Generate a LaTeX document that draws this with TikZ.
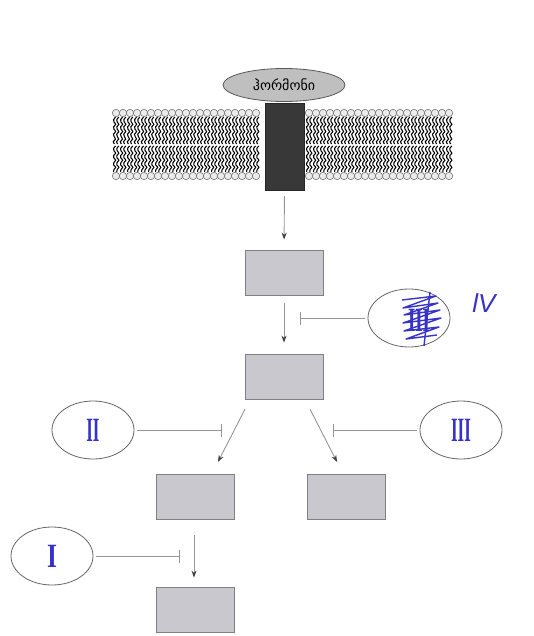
\documentclass[tikz,border=0pt]{standalone}
\usepackage{fontspec}
\newfontfamily\geo{DejaVu Sans}
\newfontfamily\hand{Liberation Serif}
\newfontfamily\handsans{Liberation Sans}
\usetikzlibrary{shapes.geometric,arrows.meta}
\definecolor{boxgray}{RGB}{201,200,207}
\definecolor{handblue}{RGB}{55,50,200}
\definecolor{headfill}{RGB}{235,235,235}
\definecolor{linegray}{RGB}{150,150,150}
\begin{document}
\begin{tikzpicture}[x=1pt,y=-1pt,
 boxn/.style={draw=black!50, fill=boxgray, minimum width=78pt, minimum height=45pt, inner sep=0pt, line width=0.8pt},
 oval/.style={ellipse, draw=black!60, line width=0.8pt, minimum width=82pt, minimum height=58pt, inner sep=0pt},
 numeral/.style={text=handblue, font=\hand\bfseries\fontsize{34}{34}\selectfont},
 act/.style={draw=linegray, line width=0.9pt, -{Stealth[length=7pt,width=5pt,color=black!75]}},
 inh/.style={draw=linegray, line width=1pt, -{Bar[width=13pt,line width=1pt]}, shorten <=3pt},
 tail/.style={draw=black, line width=1.05pt},
 head/.style={draw=black!55, fill=headfill, line width=0.6pt},
]
\useasboundingbox (0,0) rectangle (534,636);
% membrane
\foreach \hx in {116,123,...,256,309,316,...,449} {
  \foreach \dx in {-1.6,1.6} {
    \draw[tail] plot[domain=117:144,samples=12,smooth] ({\hx+\dx+1.3*sin(\x*50)},\x);
    \draw[tail] plot[domain=146:172,samples=12,smooth] ({\hx+\dx+1.3*sin(\x*50)},\x);
  }
  \draw[head] (\hx,113) circle (3.7);
  \draw[head] (\hx,176) circle (3.7);
}
% receptor and hormone
\node[fill=black!78, draw=black!85, minimum width=39pt, minimum height=87pt, inner sep=0pt] (rec) at (284.5,146.5) {};
\node[ellipse, draw=black!65, fill=black!25, line width=0.8pt, minimum width=122pt, minimum height=33pt, inner sep=0pt, font=\geo\fontsize{14}{14}\selectfont] (horm) at (284,85) {ჰორმონი};
% boxes
\node[boxn] (b1) at (284,272.5) {};
\node[boxn] (b2) at (284,376.5) {};
\node[boxn] (b3) at (195,496.5) {};
\node[boxn] (b4) at (346,496.5) {};
\node[boxn] (b5) at (195,609.5) {};
% ovals
\node[oval] (o4) at (409,318) {};
\node[oval] (o2) at (93,430) {};
\node[oval] (o3) at (461,430) {};
\node[oval] (o1) at (52,556) {};
% numerals
\node[numeral] (n2) at (93,430) {\scalebox{0.5}[1]{II}};
\node[numeral] (n3) at (461,430) {\scalebox{0.5}[1]{III}};
\node[numeral] (n1) at (52,556) {\scalebox{0.75}[1]{I}};
\node[numeral] (n4) at (419,320) {\scalebox{0.55}[1]{III}};
\draw[handblue, line width=1.4pt, line join=round] (402,300) -- (436,296) -- (403,308) -- (438,303) -- (404,315) -- (440,310) -- (403,323) -- (441,318) -- (404,331) -- (439,327) -- (406,339) -- (437,335);
\draw[handblue, line width=1.4pt] (430,292) -- (424,346);
\node[text=handblue, font=\handsans\itshape\fontsize{26}{26}\selectfont] (iv) at (484,303) {lV};
% inhibition targets
\coordinate (t4) at (300,318);
\coordinate (t2) at (222,430);
\coordinate (t3) at (333,430);
\coordinate (t1) at (180,556);
% activation arrows
\draw[act, shorten <=6pt, shorten >=10pt] (rec.south) -- (b1.north);
\draw[act, shorten <=8pt, shorten >=11pt] (b1.south) -- (b2.north);
\draw[act, shorten <=11pt, shorten >=13pt] ([xshift=-34pt]b2.south) -- ([xshift=17pt]b3.north);
\draw[act, shorten <=11pt, shorten >=13pt] ([xshift=21pt]b2.south) -- ([xshift=-3pt]b4.north);
\draw[act, shorten <=16pt, shorten >=9pt] ([xshift=-1pt]b3.south) -- ([xshift=-1pt]b5.north);
% inhibition
\draw[inh] (o4) -- (t4);
\draw[inh] (o2) -- (t2);
\draw[inh] (o3) -- (t3);
\draw[inh] (o1) -- (t1);
\end{tikzpicture}
\end{document}
